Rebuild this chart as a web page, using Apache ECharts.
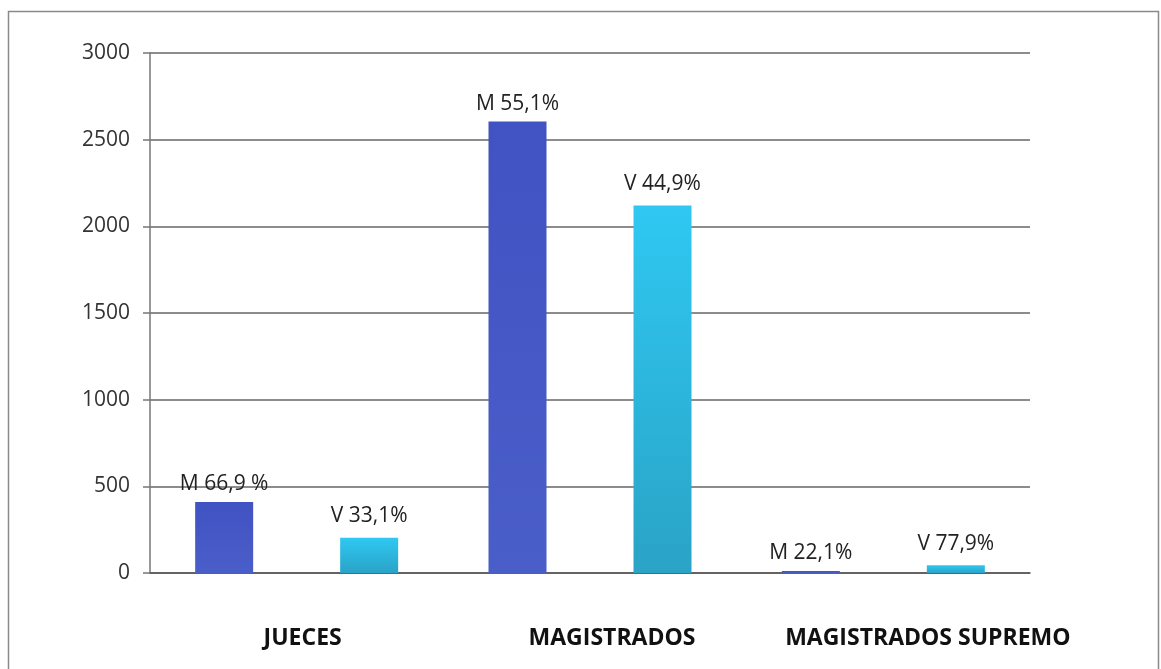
<!DOCTYPE html>
<html>
<head>
<meta charset="utf-8">
<script src="https://cdn.jsdelivr.net/npm/echarts@6/dist/echarts.min.js"></script>
<style>
html,body{margin:0;padding:0;background:#fff;}
#c{width:1161px;height:669px;}
</style>
</head>
<body>
<div id="c"></div>
<script>
const categories = ['JUECES', 'MAGISTRADOS', 'MAGISTRADOS SUPREMO'];
const valuesM = [410, 2605, 12];
const valuesV = [203, 2120, 44];
const labelsM = ['M 66,9 %', 'M 55,1%', 'M 22,1%'];
const labelsV = ['V 33,1%', 'V 44,9%', 'V 77,9%'];
const yTicks = [0, 500, 1000, 1500, 2000, 2500, 3000];

const chart = echarts.init(document.getElementById('c'));
const font = '"Open Sans", "Noto Sans", sans-serif';
const xl = { fontFamily: font, fontWeight: 'bold', fontSize: 23, color: '#111' };
chart.setOption({
  animation: false,
  backgroundColor: '#fff',
  graphic: [{
    type: 'rect',
    shape: { x: 8.5, y: 11.5, width: 1150, height: 670 },
    style: { fill: 'none', stroke: '#8a8a8a', lineWidth: 1.5 }
  }],
  grid: { left: 150, right: 131, top: 53, bottom: 96 },
  xAxis: {
    type: 'category',
    data: categories,
    axisLine: { lineStyle: { color: '#555', width: 1.5 } },
    axisTick: { show: false },
    axisLabel: {
      interval: 0,
      hideOverlap: false,
      margin: 54,
      fontFamily: font,
      fontWeight: 'bold',
      fontSize: 23,
      color: '#111',
      formatter: function (v, i) { return '{s' + i + '|' + v + '}'; },
      rich: {
        s0: Object.assign({ padding: [0, 0, 0, 12] }, xl),
        s1: Object.assign({ padding: [0, 0, 0, 44] }, xl),
        s2: Object.assign({ padding: [0, 0, 0, 89] }, xl)
      }
    }
  },
  yAxis: {
    type: 'value',
    min: yTicks[0],
    max: yTicks[yTicks.length - 1],
    interval: 500,
    axisLine: { show: true, lineStyle: { color: '#777', width: 1.5 } },
    axisTick: { show: true, length: 7, lineStyle: { color: '#777', width: 1.5 } },
    splitLine: { lineStyle: { color: '#666', width: 1.5 } },
    axisLabel: { margin: 20, fontFamily: font, fontSize: 21, color: '#333',
      formatter: v => String(v) }
  },
  series: [
    {
      name: 'M', type: 'bar', data: valuesM,
      barWidth: 58, barGap: '150%',
      itemStyle: { color: new echarts.graphic.LinearGradient(0, 0, 0, 1, [
        { offset: 0, color: '#4152c2' }, { offset: 1, color: '#4a5ec9' }]) },
      label: { show: true, position: 'top', distance: 7, fontFamily: font, fontSize: 21, color: '#222',
        formatter: p => labelsM[p.dataIndex] }
    },
    {
      name: 'V', type: 'bar', data: valuesV,
      barWidth: 58,
      itemStyle: { color: new echarts.graphic.LinearGradient(0, 0, 0, 1, [
        { offset: 0, color: '#2fc8f2' }, { offset: 1, color: '#2aa3c6' }]) },
      label: { show: true, position: 'top', distance: 11, fontFamily: font, fontSize: 21, color: '#222',
        formatter: p => labelsV[p.dataIndex] }
    }
  ]
});
</script>
</body>
</html>
